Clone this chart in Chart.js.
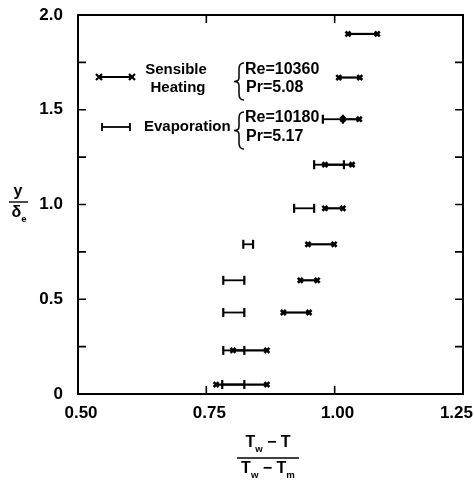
<!DOCTYPE html>
<html>
<head>
<meta charset="utf-8">
<script src="https://cdn.jsdelivr.net/npm/chart.js@4.4.0/dist/chart.umd.min.js"></script>
<style>
  html, body { margin: 0; padding: 0; background: #fff; }
  #wrap { width: 474px; height: 482px; }
</style>
</head>
<body>
<div id="wrap"><canvas id="profileChart" width="474" height="482"></canvas></div>
<script>
// Sensible heating, Re=10360 Pr=5.08 (range of each bar)
var sensY  = [1.90, 1.67, 1.45, 1.21, 0.98, 0.79, 0.60, 0.43, 0.23, 0.05];
var sensLo = [1.026, 1.008, 1.016, 0.981, 0.981, 0.948, 0.933, 0.900, 0.802, 0.769];
var sensHi = [1.083, 1.049, 1.048, 1.034, 1.016, 0.999, 0.966, 0.950, 0.868, 0.868];

// Evaporation, Re=10180 Pr=5.17
var evapY  = [1.45, 1.21, 0.98, 0.79, 0.60, 0.43, 0.23, 0.05];
var evapLo = [0.977, 0.960, 0.921, 0.822, 0.783, 0.783, 0.783, 0.781];
var evapHi = [1.016, 1.018, 0.960, 0.841, 0.824, 0.824, 0.824, 0.824];

var xTicks = [0.50, 0.75, 1.00, 1.25];
var yTicks = [0, 0.25, 0.5, 0.75, 1.0, 1.25, 1.5, 1.75, 2.0];

var FONT = "'Liberation Sans', Arial, sans-serif";

var datasets = [];
for (var i = 0; i < evapY.length; i++) {
    datasets.push({
        data: [{x: evapLo[i], y: evapY[i]}, {x: evapHi[i], y: evapY[i]}],
        showLine: true,
        borderColor: '#000',
        borderWidth: 1.8,
        pointStyle: 'line',
        rotation: 90,
        pointRadius: 4.5,
        pointBorderWidth: 2.2,
        pointBorderColor: '#000'
    });
}
for (var j = 0; j < sensY.length; j++) {
    datasets.push({
        data: [{x: sensLo[j], y: sensY[j]}, {x: sensHi[j], y: sensY[j]}],
        showLine: true,
        borderColor: '#000',
        borderWidth: 2.2,
        pointStyle: 'crossRot',
        pointRadius: 3.5,
        pointBorderWidth: 2.6,
        pointBorderColor: '#000'
    });
}

function brace(ctx, x, y0, y1) {
    var m = (y0 + y1) / 2, w = 5;
    ctx.beginPath();
    ctx.moveTo(x + w, y0);
    ctx.quadraticCurveTo(x, y0, x, y0 + 6);
    ctx.lineTo(x, m - 4);
    ctx.quadraticCurveTo(x, m, x - w, m);
    ctx.quadraticCurveTo(x, m, x, m + 4);
    ctx.lineTo(x, y1 - 6);
    ctx.quadraticCurveTo(x, y1, x + w, y1);
    ctx.stroke();
}

// draws text pieces [text, isSub] centred at cx
function pieces(ctx, parts, cx, y, size) {
    var total = 0, k;
    for (k = 0; k < parts.length; k++) {
        ctx.font = 'bold ' + (parts[k][1] ? size * 0.6 : size) + 'px ' + FONT;
        total += ctx.measureText(parts[k][0]).width;
    }
    var x = cx - total / 2;
    ctx.textAlign = 'left';
    ctx.textBaseline = 'middle';
    for (k = 0; k < parts.length; k++) {
        ctx.font = 'bold ' + (parts[k][1] ? size * 0.6 : size) + 'px ' + FONT;
        ctx.fillText(parts[k][0], x, parts[k][1] ? y + 6 : y);
        x += ctx.measureText(parts[k][0]).width;
    }
}

var framePlugin = {
    id: 'frame',
    afterDraw: function(chart) {
        var ctx = chart.ctx, a = chart.chartArea;
        var xs = chart.scales.x, ys = chart.scales.y;
        ctx.save();
        ctx.strokeStyle = '#000';
        ctx.fillStyle = '#000';
        ctx.lineWidth = 2;
        ctx.strokeRect(a.left, a.top, a.right - a.left, a.bottom - a.top);

        // inward ticks
        ctx.lineWidth = 1.6;
        yTicks.forEach(function(v) {
            if (v === 0 || v === 2) return;
            var p = ys.getPixelForValue(v);
            ctx.beginPath();
            ctx.moveTo(a.left, p); ctx.lineTo(a.left + 8, p);
            ctx.moveTo(a.right, p); ctx.lineTo(a.right - 8, p);
            ctx.stroke();
        });
        [0.75, 1.00].forEach(function(v) {
            var p = xs.getPixelForValue(v);
            ctx.beginPath();
            ctx.moveTo(p, a.bottom); ctx.lineTo(p, a.bottom - 8);
            ctx.moveTo(p, a.top); ctx.lineTo(p, a.top + 8);
            ctx.stroke();
        });

        // x tick labels, kept inside the canvas at the right edge
        ctx.font = 'bold 17px ' + FONT;
        ctx.textBaseline = 'middle';
        ctx.textAlign = 'center';
        xTicks.forEach(function(v) {
            var label = v.toFixed(2);
            var w = ctx.measureText(label).width;
            var p = xs.getPixelForValue(v) + 3;
            if (p + w / 2 > 473) p = 473 - w / 2;
            ctx.fillText(label, p, a.bottom + 19);
        });

        // legend
        ctx.lineWidth = 2.2;
        ctx.beginPath(); ctx.moveTo(99, 77); ctx.lineTo(132, 77); ctx.stroke();
        [99, 132].forEach(function(x) {
            ctx.beginPath();
            ctx.moveTo(x - 3, 74); ctx.lineTo(x + 3, 80);
            ctx.moveTo(x - 3, 80); ctx.lineTo(x + 3, 74);
            ctx.stroke();
        });
        ctx.lineWidth = 1.8;
        ctx.beginPath(); ctx.moveTo(102, 127); ctx.lineTo(130, 127); ctx.stroke();
        [102, 130].forEach(function(x) {
            ctx.beginPath(); ctx.moveTo(x, 123); ctx.lineTo(x, 131); ctx.stroke();
        });

        ctx.font = 'bold 15px ' + FONT;
        ctx.textBaseline = 'middle';
        ctx.textAlign = 'center';
        ctx.fillText('Sensible', 176, 70);
        ctx.fillText('Heating', 178, 88);
        ctx.textAlign = 'left';
        ctx.fillText('Evaporation', 144, 127);

        ctx.lineWidth = 1.5;
        brace(ctx, 239, 63, 100);
        brace(ctx, 239, 112, 149);
        ctx.font = 'bold 16px ' + FONT;
        ctx.fillText('Re=10360', 245, 70);
        ctx.fillText('Pr=5.08', 246, 88);
        ctx.fillText('Re=10180', 245, 118);
        ctx.fillText('Pr=5.17', 246, 137);

        // y axis title  y / delta_e
        ctx.textAlign = 'center';
        ctx.font = 'bold 16px ' + FONT;
        ctx.fillText('y', 18, 192);
        ctx.lineWidth = 1.4;
        ctx.beginPath(); ctx.moveTo(9, 202); ctx.lineTo(28, 202); ctx.stroke();
        pieces(ctx, [['\u03b4', false], ['e', true]], 19, 213, 16);

        // x axis title fraction
        pieces(ctx, [['T', false], ['w', true], [' \u2212 T', false]], 268, 443, 16);
        ctx.beginPath(); ctx.moveTo(237, 458); ctx.lineTo(299, 458); ctx.stroke();
        pieces(ctx, [['T', false], ['w', true], [' \u2212 T', false], ['m', true]], 268, 469, 16);
        ctx.restore();
    }
};

var ctx = document.getElementById('profileChart').getContext('2d');
var profileChart = new Chart(ctx, {
    type: 'scatter',
    data: { datasets: datasets },
    options: {
        responsive: false,
        animation: false,
        layout: { padding: { left: 0, right: 11, top: 15, bottom: 0 } },
        plugins: { legend: { display: false }, tooltip: { enabled: false } },
        scales: {
            x: {
                type: 'linear',
                min: 0.5, max: 1.25,
                grid: { display: false },
                border: { display: false },
                afterBuildTicks: function(scale) {
                    scale.ticks = xTicks.map(function(v) { return {value: v}; });
                },
                afterFit: function(scale) {
                    scale.height = 88;
                    scale.paddingLeft = 0; scale.paddingRight = 0;
                },
                ticks: { display: false }
            },
            y: {
                type: 'linear',
                min: 0, max: 2,
                grid: { display: false },
                border: { display: false },
                afterBuildTicks: function(scale) {
                    scale.ticks = yTicks.map(function(v) { return {value: v}; });
                },
                afterFit: function(scale) {
                    scale.width = 78;
                    scale.paddingTop = 0; scale.paddingBottom = 0;
                },
                ticks: {
                    color: '#000',
                    padding: 7,
                    font: { family: FONT, size: 17, weight: 'bold' },
                    callback: function(v) {
                        if (v === 0) return '0';
                        if (Math.abs(v * 2 - Math.round(v * 2)) > 1e-9) return '';
                        return v.toFixed(1);
                    }
                }
            }
        }
    },
    plugins: [framePlugin]
});
</script>
</body>
</html>
